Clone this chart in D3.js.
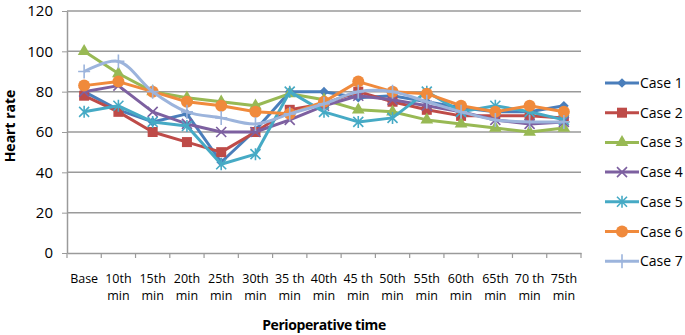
<!DOCTYPE html>
<html>
<head>
<meta charset="utf-8">
<script src="https://cdn.jsdelivr.net/npm/d3@7"></script>
<style>
  body { margin: 0; background: #fff; }
  text { font-family: "Open Sans", "Noto Sans", sans-serif; fill: #000; }
</style>
</head>
<body>
<div id="chart"></div>
<script>
const categories = ["Base", "10th min", "15th min", "20th min", "25th min", "30th min", "35 th min",
  "40th min", "45 th min", "50th min", "55th min", "60th min", "65th min", "70 th min", "75th min"];
const labelLines = [["Base"], ["10th", "min"], ["15th", "min"], ["20th", "min"], ["25th", "min"],
  ["30th", "min"], ["35 th", "min"], ["40th", "min"], ["45 th", "min"], ["50th", "min"],
  ["55th", "min"], ["60th", "min"], ["65th", "min"], ["70 th", "min"], ["75th", "min"]];
const yTicks = [0, 20, 40, 60, 80, 100, 120];
const caseNames = ["Case 1", "Case 2", "Case 3", "Case 4", "Case 5", "Case 6", "Case 7"];
const case1 = [80, 71, 65, 69, 45, 61, 80, 80, 77, 78, 75, 72, 70, 70, 73];
const case2 = [78, 70, 60, 55, 50, 60, 71, 74, 80, 75, 71, 68, 68, 68, 67];
const case3 = [100, 89, 80, 77, 75, 73, 79, 76, 71, 70, 66, 64, 62, 60, 62];
const case4 = [80, 83, 70, 64, 60, 60, 66, 73, 78, 76, 73, 70, 66, 64, 65];
const case5 = [70, 73, 65, 63, 44, 49, 80, 70, 65, 67, 80, 70, 73, 70, 66];
const case6 = [83, 85, 80, 75, 73, 70, 69, 75, 85, 80, 79, 73, 70, 73, 70];
const case7 = [90, 95, 80, 70, 67, 64, 69, 74, 80, 80, 75, 70, 66, 65, 65];
const colors = ["#4a7ebb", "#be4b48", "#98b954", "#7d60a0", "#46aac5", "#f08a3c", "#9cb4dc"];
const markers = ["diamond", "square", "triangle", "cross", "star", "circle", "plus"];

const seriesData = [case1, case2, case3, case4, case5, case6, case7];

const margin = { top: 11, right: 104, bottom: 82, left: 67 },
  width = 685 - margin.left - margin.right,
  height = 335 - margin.top - margin.bottom;

const svgRoot = d3.select("#chart").append("svg")
  .attr("width", 685)
  .attr("height", 335);
const svg = svgRoot.append("g")
  .attr("transform", "translate(" + margin.left + "," + margin.top + ")");

const x = d3.scaleBand().domain(categories).range([0, width]);
const y = d3.scaleLinear().domain([0, 120]).range([height, 0]);

// gridlines
svg.append("g").selectAll("line")
  .data(yTicks.filter(d => d > 0))
  .enter().append("line")
  .attr("x1", 0).attr("x2", width)
  .attr("y1", d => y(d)).attr("y2", d => y(d))
  .attr("stroke", "#9a9a9a").attr("stroke-width", 1.5);

// y axis
const yAxis = svg.append("g")
  .call(d3.axisLeft(y).tickValues(yTicks).tickSize(5).tickSizeOuter(0));
yAxis.select(".domain").attr("stroke", "#9a9a9a").attr("stroke-width", 1.5);
yAxis.selectAll(".tick line").attr("stroke", "#9a9a9a");
yAxis.selectAll(".tick text").attr("font-size", 15).attr("x", -14)
  .style("font-family", "'Open Sans', sans-serif");

// x axis
const xAxis = svg.append("g")
  .attr("transform", "translate(0," + height + ")")
  .call(d3.axisBottom(x).tickSize(0).tickSizeOuter(0).tickFormat(""));
xAxis.select(".domain").attr("stroke", "#9a9a9a").attr("stroke-width", 1.5);
xAxis.selectAll(".tick").remove();
xAxis.selectAll("line.sep")
  .data(categories.concat(["end"]))
  .enter().append("line")
  .attr("class", "sep")
  .attr("x1", (d, i) => i * x.step()).attr("x2", (d, i) => i * x.step())
  .attr("y1", 0).attr("y2", 5)
  .attr("stroke", "#9a9a9a").attr("stroke-width", 1.2);

const labels = svg.append("g").selectAll("text")
  .data(labelLines)
  .enter().append("text")
  .attr("text-anchor", "middle")
  .attr("font-size", 12.5)
  .attr("transform", (d, i) => "translate(" + (x(categories[i]) + x.bandwidth() / 2) + "," + (height + 30) + ")");
labels.selectAll("tspan")
  .data(d => d)
  .enter().append("tspan")
  .attr("x", 0)
  .attr("dy", (d, i) => i === 0 ? 0 : 17)
  .text(d => d);

// axis titles
svg.append("text")
  .attr("text-anchor", "middle")
  .attr("x", width / 2)
  .attr("y", height + 77)
  .attr("font-size", 14)
  .attr("font-weight", "bold")
  .style("letter-spacing", "-0.4px")
  .text("Perioperative time");

svg.append("text")
  .attr("text-anchor", "middle")
  .attr("transform", "rotate(-90)")
  .attr("x", -115)
  .attr("y", -52)
  .attr("font-size", 14)
  .attr("font-weight", "bold")
  .text("Heart rate");

// marker drawing
function drawMarker(g, type, color) {
  if (type === "diamond") {
    g.append("path").attr("d", d3.symbol(d3.symbolDiamond2, 60)()).attr("fill", color);
  } else if (type === "square") {
    g.append("rect").attr("x", -5).attr("y", -5).attr("width", 10).attr("height", 10).attr("fill", color);
  } else if (type === "triangle") {
    g.append("path").attr("d", d3.symbol(d3.symbolTriangle, 70)()).attr("fill", color);
  } else if (type === "circle") {
    g.append("circle").attr("r", 6).attr("fill", color);
  } else if (type === "cross") {
    g.append("path").attr("d", "M-5,-5L5,5M-5,5L5,-5").attr("stroke", color).attr("stroke-width", 1.6);
  } else if (type === "star") {
    g.append("path").attr("d", "M-5,-5L5,5M-5,5L5,-5M0,-6L0,6").attr("stroke", color).attr("stroke-width", 1.6);
  } else if (type === "plus") {
    g.append("path").attr("d", "M0,-7L0,7M-6,0L6,0").attr("stroke", color).attr("stroke-width", 1.6);
  }
}

const cx = d => x(d) + x.bandwidth() / 2;

seriesData.forEach(function (vals, s) {
  const pts = vals.map((v, i) => [cx(categories[i]), y(v)]);
  const line = d3.line().curve(s === 6 ? d3.curveCatmullRom.alpha(0.5) : d3.curveLinear);
  svg.append("path")
    .attr("d", line(pts))
    .attr("fill", "none")
    .attr("stroke", colors[s])
    .attr("stroke-width", 3)
    .attr("stroke-linejoin", "round");
  pts.forEach(function (p) {
    const g = svg.append("g").attr("transform", "translate(" + p[0] + "," + p[1] + ")");
    drawMarker(g, markers[s], colors[s]);
  });
});

// legend
const legend = svgRoot.append("g").attr("transform", "translate(605,83)");
caseNames.forEach(function (name, i) {
  const row = legend.append("g").attr("transform", "translate(0," + i * 29.7 + ")");
  row.append("line").attr("x1", 0).attr("x2", 34).attr("y1", 0).attr("y2", 0)
    .attr("stroke", colors[i]).attr("stroke-width", 3);
  const g = row.append("g").attr("transform", "translate(17,0)");
  drawMarker(g, markers[i], colors[i]);
  row.append("text").attr("x", 35).attr("y", 5).attr("font-size", 14).text(name);
});
</script>
</body>
</html>
